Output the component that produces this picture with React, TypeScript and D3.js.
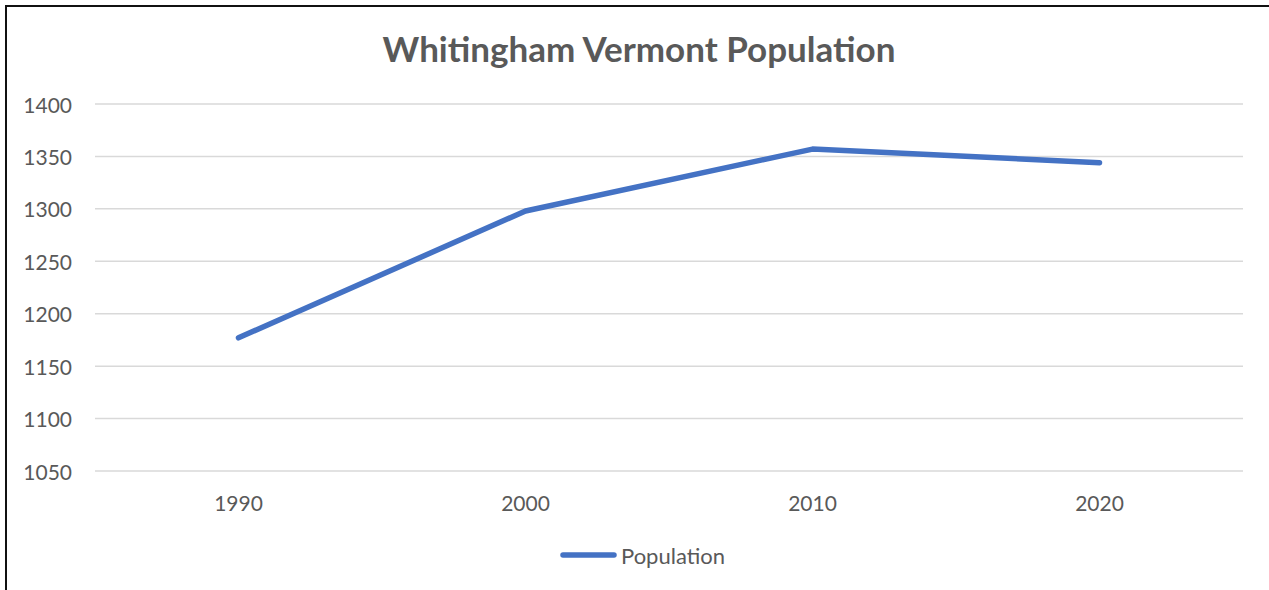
import React from "react";
import * as d3 from "d3";

const years = ["1990", "2000", "2010", "2020"];
const population = [1177, 1298, 1357, 1344];
const yTicks = [1050, 1100, 1150, 1200, 1250, 1300, 1350, 1400];
const seriesName = "Population";
const title = "Whitingham Vermont Population";

const W = 1269;
const H = 590;
const FONT = "Lato, 'Open Sans', sans-serif";
const TEXT = "#595959";
const BLUE = "#4472C4";

export default function App() {
  const x = d3.scaleBand<string>().domain(years).range([95, 1243]);
  const y = d3.scaleLinear().domain([1050, 1400]).range([471, 104]);
  const line = d3
    .line<number>()
    .x((_, i) => (x(years[i]) as number) + x.bandwidth() / 2)
    .y((d) => y(d));

  return (
    <div style={{ position: "fixed", left: 0, top: 0 }}>
      <svg width={W} height={H} style={{ display: "block", background: "#fff" }}>
        <rect x={0} y={0} width={W} height={H} fill="#fff" />
        <path d={`M6,${H} V6 H${W}`} fill="none" stroke="#111" strokeWidth={2} />
        <text
          x={639}
          y={62}
          textAnchor="middle"
          fontFamily={FONT}
          fontWeight={700}
          fontSize={35}
          fill={TEXT}
        >
          {title}
        </text>
        {yTicks.map((t) => (
          <g key={t}>
            <line x1={95} x2={1243} y1={y(t)} y2={y(t)} stroke="#d9d9d9" strokeWidth={1.5} />
            <text
              x={72}
              y={y(t)}
              textAnchor="end"
              dominantBaseline="central"
              fontFamily={FONT}
              fontSize={21}
              fill={TEXT}
            >
              {t}
            </text>
          </g>
        ))}
        {years.map((yr) => (
          <text
            key={yr}
            x={(x(yr) as number) + x.bandwidth() / 2}
            y={502}
            textAnchor="middle"
            dominantBaseline="central"
            fontFamily={FONT}
            fontSize={21}
            fill={TEXT}
          >
            {yr}
          </text>
        ))}
        <path
          d={line(population) || ""}
          fill="none"
          stroke={BLUE}
          strokeWidth={5.5}
          strokeLinecap="round"
          strokeLinejoin="round"
        />
        <line x1={563} x2={614} y1={555} y2={555} stroke={BLUE} strokeWidth={5.5} strokeLinecap="round" />
        <text
          x={621}
          y={555}
          dominantBaseline="central"
          fontFamily={FONT}
          fontSize={22}
          fill={TEXT}
        >
          {seriesName}
        </text>
      </svg>
    </div>
  );
}
